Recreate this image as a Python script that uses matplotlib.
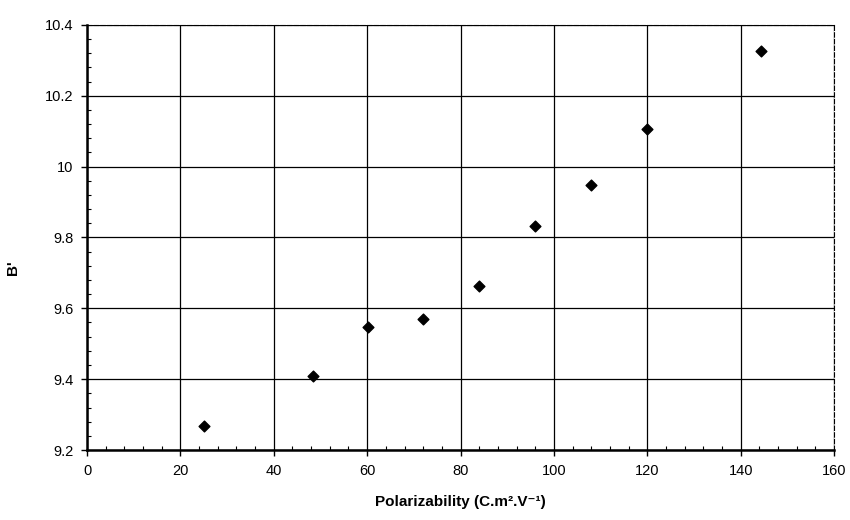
import matplotlib
matplotlib.use('Agg')
import matplotlib.pyplot as plt
from matplotlib.ticker import MultipleLocator

# данные
polarizability = [25.1, 48.5, 60.2, 72.0, 83.9, 95.9, 108.0, 120.0, 144.3]
b_prime = [9.268, 9.409, 9.546, 9.569, 9.663, 9.832, 9.949, 10.106, 10.327]

x_ticks = [0, 20, 40, 60, 80, 100, 120, 140, 160]
y_ticks = [9.2, 9.4, 9.6, 9.8, 10.0, 10.2, 10.4]
y_tick_labels = ['9.2', '9.4', '9.6', '9.8', '10', '10.2', '10.4']

plt.rcParams['font.family'] = ['Liberation Sans', 'DejaVu Sans']

fig = plt.figure(figsize=(8.5, 5.2), dpi=100)
ax = fig.add_axes([0.1024, 0.1346, 0.8788, 0.8174])

ax.scatter(polarizability, b_prime, marker='D', s=30, c='black', zorder=3)

ax.set_xlim(0, 160)
ax.set_ylim(9.2, 10.4)
ax.set_xticks(x_ticks)
ax.set_yticks(y_ticks)
ax.set_yticklabels(y_tick_labels)
ax.xaxis.set_minor_locator(MultipleLocator(4))
ax.yaxis.set_minor_locator(MultipleLocator(0.04))

ax.grid(True, which='major', color='black', linewidth=0.9)
ax.tick_params(which='major', direction='out', length=4, width=1, labelsize=10.5, pad=6)
ax.tick_params(which='minor', direction='in', length=3, width=0.8)

for side in ['left', 'bottom']:
    ax.spines[side].set_linewidth(1.8)
for side in ['top', 'right']:
    ax.spines[side].set_linewidth(0.8)
    ax.spines[side].set_linestyle((0, (4, 2)))

ax.set_xlabel('Polarizability (C.m².V⁻¹)', fontsize=11, fontweight='bold', labelpad=12)
ax.set_ylabel("B'", fontsize=11, fontweight='bold')
ax.yaxis.set_label_coords(-0.09, 0.43)

fig.savefig('out.png', dpi=100)
